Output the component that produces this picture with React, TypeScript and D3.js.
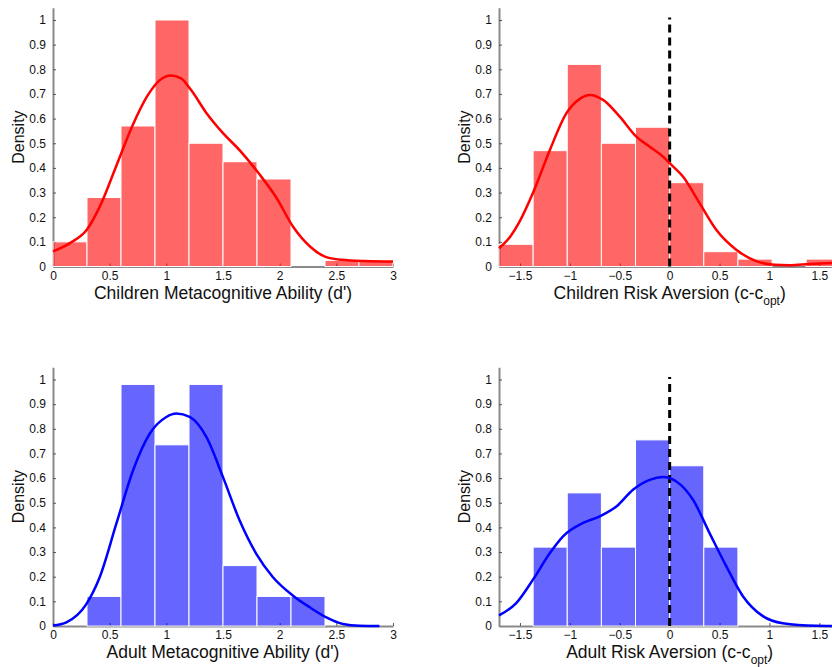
import React, { useEffect, useRef } from 'react';
import * as d3 from 'd3';

// histogram bins (left edges + last right edge) and densities
const metaEdges = [0, 0.3, 0.6, 0.9, 1.2, 1.5, 1.8, 2.1, 2.4, 2.7, 3.0];
const childMetaDensity = [0.1, 0.28, 0.57, 1.0, 0.5, 0.425, 0.355, 0, 0.025, 0.025];
const adultMetaDensity = [0, 0.12, 0.98, 0.735, 0.98, 0.245, 0.12, 0.12, 0, 0];

const riskEdges = [-1.71, -1.368, -1.026, -0.684, -0.342, 0, 0.342, 0.684, 1.026, 1.368, 1.71];
const childRiskDensity = [0.09, 0.47, 0.82, 0.5, 0.565, 0.34, 0.06, 0.03, 0, 0.03];
const adultRiskDensity = [0, 0.32, 0.54, 0.32, 0.755, 0.65, 0.32, 0, 0, 0];

// kernel density curves, [x, density]
const childMetaKde = [
  [0, 0.061], [0.15, 0.095], [0.3, 0.15], [0.42, 0.25], [0.56, 0.41], [0.7, 0.57], [0.83, 0.69],
  [0.94, 0.755], [1.04, 0.775], [1.13, 0.763], [1.22, 0.715], [1.35, 0.625], [1.5, 0.541],
  [1.65, 0.47], [1.82, 0.375], [1.97, 0.28], [2.12, 0.16], [2.27, 0.08], [2.4, 0.04],
  [2.55, 0.027], [2.75, 0.022], [3.0, 0.02]
];
const childRiskKde = [
  [-1.71, 0.074], [-1.6, 0.12], [-1.5, 0.185], [-1.368, 0.3], [-1.2, 0.473], [-1.034, 0.622],
  [-0.9, 0.68], [-0.8, 0.696], [-0.667, 0.676], [-0.5, 0.608], [-0.334, 0.527], [-0.2, 0.486],
  [-0.067, 0.446], [0, 0.419], [0.133, 0.365], [0.3, 0.257], [0.467, 0.149], [0.667, 0.068],
  [0.867, 0.022], [1.05, 0.007], [1.2, 0.005], [1.4, 0.01], [1.71, 0.016]
];
const adultMetaKde = [
  [0, 0.002], [0.118, 0.015], [0.294, 0.089], [0.412, 0.198], [0.559, 0.415], [0.706, 0.631],
  [0.853, 0.78], [1.0, 0.848], [1.088, 0.862], [1.206, 0.848], [1.353, 0.767], [1.5, 0.604],
  [1.647, 0.428], [1.794, 0.293], [1.941, 0.198], [2.118, 0.123], [2.265, 0.076], [2.412, 0.035],
  [2.559, 0.008], [2.706, 0.001], [2.88, 0]
];
const adultRiskKde = [
  [-1.71, 0.043], [-1.535, 0.094], [-1.368, 0.189], [-1.2, 0.296], [-1.068, 0.364], [-0.867, 0.418],
  [-0.7, 0.445], [-0.534, 0.485], [-0.367, 0.553], [-0.2, 0.593], [-0.067, 0.604], [0.067, 0.586],
  [0.234, 0.512], [0.4, 0.377], [0.567, 0.243], [0.734, 0.121], [0.934, 0.04], [1.134, 0.011],
  [1.468, 0.001], [1.71, 0]
];

const densityTicks = [0, 0.1, 0.2, 0.3, 0.4, 0.5, 0.6, 0.7, 0.8, 0.9, 1];
const metaTicks = [0, 0.5, 1, 1.5, 2, 2.5, 3];
const riskTicks = [-1.5, -1, -0.5, 0, 0.5, 1, 1.5];

const RED = '#ff0000';
const BLUE = '#0000ff';
const FONT = '"Liberation Sans", Arial, Helvetica, sans-serif';

const panels = [
  { left: 53, right: 393, y0: 266.5, y1: 20, domain: [0, 3], edges: metaEdges, dens: childMetaDensity,
    kde: childMetaKde, color: RED, ticks: metaTicks, label: 'Children Metacognitive Ability (d\')', sub: null,
    dashed: false, labelY: 299, tickPad: 5 },
  { left: 499, right: 840.3, y0: 266.5, y1: 20, domain: [-1.71, 1.71], edges: riskEdges, dens: childRiskDensity,
    kde: childRiskKde, color: RED, ticks: riskTicks, label: 'Children Risk Aversion (c-c', sub: 'opt',
    dashed: true, labelY: 299, tickPad: 5 },
  { left: 53, right: 393, y0: 626, y1: 379.5, domain: [0, 3], edges: metaEdges, dens: adultMetaDensity,
    kde: adultMetaKde, color: BLUE, ticks: metaTicks, label: 'Adult Metacognitive Ability (d\')', sub: null,
    dashed: false, labelY: 658, tickPad: 4 },
  { left: 499, right: 840.3, y0: 626, y1: 379.5, domain: [-1.71, 1.71], edges: riskEdges, dens: adultRiskDensity,
    kde: adultRiskKde, color: BLUE, ticks: riskTicks, label: 'Adult Risk Aversion (c-c', sub: 'opt',
    dashed: true, labelY: 658, tickPad: 4 }
];

const App = () => {
  const svgRef = useRef(null);

  useEffect(() => {
    const root = d3.select(svgRef.current);
    root.selectAll('*').remove();

    panels.forEach(p => {
      const g = root.append('g');
      const x = d3.scaleLinear().domain(p.domain).range([p.left, p.right]);
      const unit = p.y0 - p.y1;
      const y = d3.scaleLinear().domain([0, 1.05]).range([p.y0, p.y0 - 1.05 * unit]);

      // axes
      const yAxis = g.append('g')
        .attr('transform', `translate(${p.left},0)`)
        .call(d3.axisLeft(y).tickValues(densityTicks).tickSizeInner(-3).tickSizeOuter(0).tickPadding(7)
          .tickFormat(d3.format('~g')));
      const xAxis = g.append('g')
        .attr('transform', `translate(0,${p.y0})`)
        .call(d3.axisBottom(x).tickValues(p.ticks).tickSizeInner(-3).tickSizeOuter(0).tickPadding(p.tickPad)
          .tickFormat(d3.format('~g')));
      [yAxis, xAxis].forEach(a => {
        a.select('.domain').attr('stroke', '#8a8a8a').attr('stroke-width', 2);
        a.selectAll('.tick line').attr('stroke', '#555').attr('stroke-width', 1);
        a.selectAll('.tick text').attr('fill', '#111').style('font-family', FONT).style('font-size', '12px');
      });

      // bars
      const bins = p.dens.map((d, i) => ({ x0: p.edges[i], x1: p.edges[i + 1], d })).filter(b => b.d > 0);
      g.append('g').selectAll('rect')
        .data(bins)
        .enter().append('rect')
        .attr('x', b => x(b.x0))
        .attr('width', b => x(b.x1) - x(b.x0))
        .attr('y', b => y(b.d))
        .attr('height', b => p.y0 - y(b.d))
        .attr('fill', p.color)
        .attr('fill-opacity', 0.6)
        .attr('stroke', '#fff')
        .attr('stroke-width', 1);

      // reference line at zero
      if (p.dashed) {
        g.append('line')
          .attr('x1', x(0)).attr('x2', x(0))
          .attr('y1', y(0)).attr('y2', y(1.01))
          .attr('stroke', '#000')
          .attr('stroke-width', 3)
          .attr('stroke-dasharray', '8,5');
      }

      // density curve
      const line = d3.line().x(d => x(d[0])).y(d => y(d[1])).curve(d3.curveMonotoneX);
      g.append('path')
        .datum(p.kde)
        .attr('d', line)
        .attr('fill', 'none')
        .attr('stroke', p.color)
        .attr('stroke-width', 2.5)
        .attr('stroke-linejoin', 'round');

      // labels
      const t = g.append('text')
        .attr('x', p.dashed ? x(0) : (p.left + p.right) / 2)
        .attr('y', p.labelY)
        .attr('text-anchor', 'middle')
        .style('font-family', FONT)
        .style('font-size', '17.5px')
        .attr('fill', '#111');
      t.append('tspan').text(p.label);
      if (p.sub) {
        t.append('tspan').text(p.sub).attr('dy', 6).style('font-size', '12px');
        t.append('tspan').text(')').attr('dy', -6);
      }

      g.append('text')
        .attr('transform', `translate(${p.left - 29},${(p.y0 + y(1.05)) / 2}) rotate(-90)`)
        .attr('text-anchor', 'middle')
        .style('font-family', FONT)
        .style('font-size', '16px')
        .attr('fill', '#111')
        .text('Density');
    });
  }, []);

  return (
    <svg ref={svgRef} width={832} height={667}
      style={{ position: 'absolute', left: 0, top: 0, background: '#fff' }} />
  );
};

export default App;
